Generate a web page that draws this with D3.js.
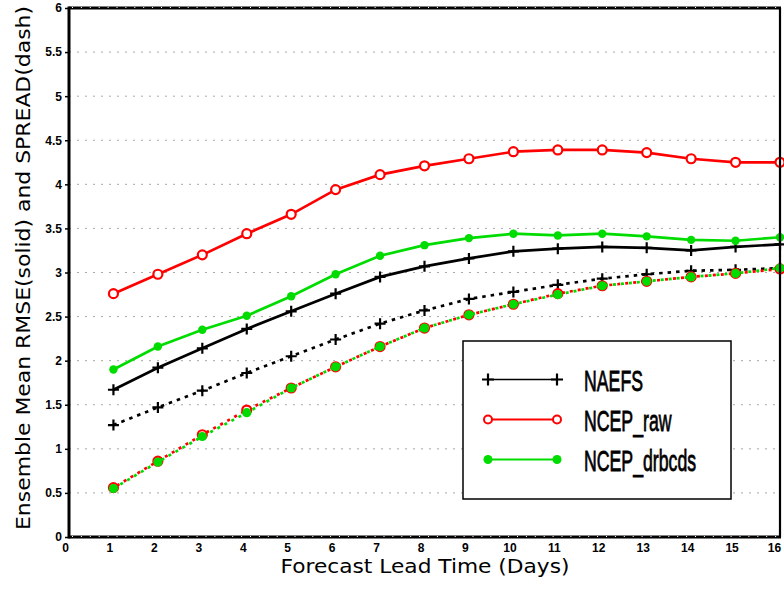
<!DOCTYPE html>
<html>
<head>
<meta charset="utf-8">
<script src="https://cdn.jsdelivr.net/npm/d3@7"></script>
<style>
  html, body { margin: 0; padding: 0; background: #fff; }
  svg { display: block; }
</style>
</head>
<body>
<svg id="chart" width="784" height="595"></svg>
<script>
// Forecast lead time (days)
const days = [1, 2, 3, 4, 5, 6, 7, 8, 9, 10, 11, 12, 13, 14, 15, 16];

// Ensemble mean RMSE (solid) and ensemble spread (dashed)
const naefsRmse   = [1.67, 1.92, 2.14, 2.36, 2.56, 2.76, 2.95, 3.07, 3.16, 3.24, 3.27, 3.29, 3.28, 3.25, 3.29, 3.32];
const naefsSpread = [1.27, 1.47, 1.66, 1.86, 2.05, 2.24, 2.42, 2.57, 2.70, 2.78, 2.86, 2.93, 2.98, 3.02, 3.03, 3.05];
const rawRmse     = [2.76, 2.98, 3.20, 3.44, 3.66, 3.94, 4.11, 4.21, 4.29, 4.37, 4.39, 4.39, 4.36, 4.29, 4.25, 4.25];
const rawSpread   = [0.56, 0.86, 1.16, 1.44, 1.69, 1.93, 2.16, 2.37, 2.52, 2.64, 2.76, 2.85, 2.90, 2.95, 2.99, 3.04];
const drbRmse     = [1.90, 2.16, 2.35, 2.51, 2.73, 2.98, 3.19, 3.31, 3.39, 3.44, 3.42, 3.44, 3.41, 3.37, 3.36, 3.40];
const drbSpread   = [0.55, 0.85, 1.14, 1.41, 1.69, 1.93, 2.16, 2.37, 2.52, 2.64, 2.75, 2.85, 2.90, 2.95, 2.99, 3.05];

// Axis ticks and legend entries
const xTicks = [0, 1, 2, 3, 4, 5, 6, 7, 8, 9, 10, 11, 12, 13, 14, 15, 16];
const yTicks = [0, 0.5, 1, 1.5, 2, 2.5, 3, 3.5, 4, 4.5, 5, 5.5, 6];
const legendNames = ["NAEFS", "NCEP_raw", "NCEP_drbcds"];

const RED = "#ff0000", GREEN = "#00dc00", BLACK = "#000000";

const svg = d3.select("#chart");
const x = d3.scaleLinear().domain([0, 16]).range([69, 780]);
const y = d3.scaleLinear().domain([0, 6]).range([537, 8]);

// horizontal dotted grid
svg.append("g").selectAll("line")
  .data(yTicks.filter(v => v > 0 && v < 6))
  .join("line")
  .attr("x1", x(0)).attr("x2", x(16))
  .attr("y1", d => y(d)).attr("y2", d => y(d))
  .attr("stroke", "#a8a8a8").attr("stroke-width", 1)
  .attr("stroke-dasharray", "2,6");

// series drawing helpers
const line = d3.line().x((d, i) => x(days[i])).y(d => y(d));

function drawLine(vals, color, dash, offset) {
  svg.append("path")
    .datum(vals)
    .attr("d", line)
    .attr("fill", "none")
    .attr("stroke", color)
    .attr("stroke-width", 2.7)
    .attr("stroke-dasharray", dash || null)
    .attr("stroke-dashoffset", offset || 0);
}

function plus(g, cx, cy, size) {
  g.append("path")
    .attr("d", `M${cx - size},${cy}H${cx + size}M${cx},${cy - size}V${cy + size}`)
    .attr("stroke", BLACK).attr("stroke-width", 2.2).attr("fill", "none");
}

function drawPlus(vals) {
  const g = svg.append("g");
  vals.forEach((v, i) => plus(g, x(days[i]), y(v), 5.5));
}

function drawOpen(vals, r) {
  svg.append("g").selectAll("circle").data(vals).join("circle")
    .attr("cx", (d, i) => x(days[i])).attr("cy", d => y(d)).attr("r", r)
    .attr("fill", "#fff").attr("stroke", RED).attr("stroke-width", 2.2);
}

function drawFilled(vals, r, color) {
  svg.append("g").selectAll("circle").data(vals).join("circle")
    .attr("cx", (d, i) => x(days[i])).attr("cy", d => y(d)).attr("r", r)
    .attr("fill", color).attr("stroke", "none");
}

// spread (dashed)
drawLine(naefsSpread, BLACK, "3.5,5");
drawPlus(naefsSpread);
drawLine(rawSpread, RED, "3,5", 4);
drawOpen(rawSpread, 4.5);
drawLine(drbSpread, GREEN, "3,5", 0);
drawFilled(drbSpread, 4.6, GREEN);

// RMSE (solid)
drawLine(rawRmse, RED);
drawOpen(rawRmse, 4.5);
drawLine(naefsRmse, BLACK);
drawPlus(naefsRmse);
drawLine(drbRmse, GREEN);
drawFilled(drbRmse, 4.2, GREEN);

// frame
const frame = svg.append("g");
frame.append("line").attr("x1", x(16)).attr("x2", x(16)).attr("y1", y(6)).attr("y2", y(0))
  .attr("stroke", BLACK).attr("stroke-width", 2.2);
[y(6), y(0)].forEach(yy => {
  frame.append("line").attr("x1", x(0)).attr("x2", x(16) + 1).attr("y1", yy).attr("y2", yy)
    .attr("stroke", BLACK).attr("stroke-width", 3);
  frame.append("line").attr("x1", x(0) + 3).attr("x2", x(16) - 2).attr("y1", yy - 0.5).attr("y2", yy - 0.5)
    .attr("stroke", "#fff").attr("stroke-width", 1).attr("stroke-dasharray", "1,7.9");
});

// axes
const yAxis = d3.axisLeft(y).tickValues(yTicks).tickSize(4).tickPadding(3)
  .tickFormat(d3.format("~g"));
const gy = svg.append("g").attr("transform", `translate(${x(0)},0)`).call(yAxis);
gy.select(".domain").attr("stroke-width", 3).attr("d", `M0,${y(6) - 1.5}V${y(0) + 1.5}`);
gy.selectAll(".tick line").attr("stroke-width", 1.5);
gy.selectAll("text").attr("font-family", "Liberation Sans, Arial, sans-serif")
  .attr("font-size", 12).attr("font-weight", "bold").attr("fill", BLACK);

const xAxis = d3.axisBottom(x).tickValues(xTicks).tickSize(0).tickPadding(6)
  .tickFormat(d3.format("d"));
const gx = svg.append("g").attr("transform", `translate(0,${y(0)})`).call(xAxis);
gx.select(".domain").remove();
gx.selectAll("text").attr("font-family", "Liberation Sans, Arial, sans-serif")
  .attr("font-size", 12).attr("font-weight", "bold").attr("fill", BLACK)
  .attr("dx", d => d === 16 ? -6 : -4);

// axis titles
svg.append("text")
  .attr("x", 425).attr("y", 573)
  .attr("text-anchor", "middle")
  .attr("font-family", "DejaVu Sans, sans-serif").attr("font-size", 19)
  .attr("textLength", 289).attr("lengthAdjust", "spacingAndGlyphs")
  .text("Forecast Lead Time (Days)");

svg.append("text")
  .attr("transform", "translate(30,268) rotate(-90)")
  .attr("text-anchor", "middle")
  .attr("font-family", "DejaVu Sans, sans-serif").attr("font-size", 19)
  .attr("textLength", 524).attr("lengthAdjust", "spacingAndGlyphs")
  .text("Ensemble  Mean  RMSE(solid)  and  SPREAD(dash)");

// legend
const leg = svg.append("g");
leg.append("rect").attr("x", 463).attr("y", 341).attr("width", 268).attr("height", 158)
  .attr("fill", "#fff").attr("stroke", BLACK).attr("stroke-width", 1.5);

const legRows = [379.5, 419.5, 459.5];
const legColors = [BLACK, RED, GREEN];
const legX1 = 488, legX2 = 557;
legendNames.forEach((name, i) => {
  const ly = legRows[i];
  leg.append("line").attr("x1", legX1).attr("x2", legX2).attr("y1", ly).attr("y2", ly)
    .attr("stroke", legColors[i]).attr("stroke-width", i === 0 ? 1.5 : 2);
  [legX1, legX2].forEach(lx => {
    if (i === 0) plus(leg, lx, ly, 6);
    else if (i === 1) leg.append("circle").attr("cx", lx).attr("cy", ly).attr("r", 4)
      .attr("fill", "#fff").attr("stroke", RED).attr("stroke-width", 2);
    else leg.append("circle").attr("cx", lx).attr("cy", ly).attr("r", 4.5).attr("fill", GREEN);
  });
  leg.append("text")
    .attr("transform", `translate(584,${ly + 11}) scale(0.59,1)`)
    .attr("font-family", "Liberation Sans Narrow, Liberation Sans, sans-serif")
    .attr("font-size", 30)
    .attr("fill", BLACK)
    .attr("stroke", BLACK).attr("stroke-width", 0.8)
    .text(name);
});
</script>
</body>
</html>
